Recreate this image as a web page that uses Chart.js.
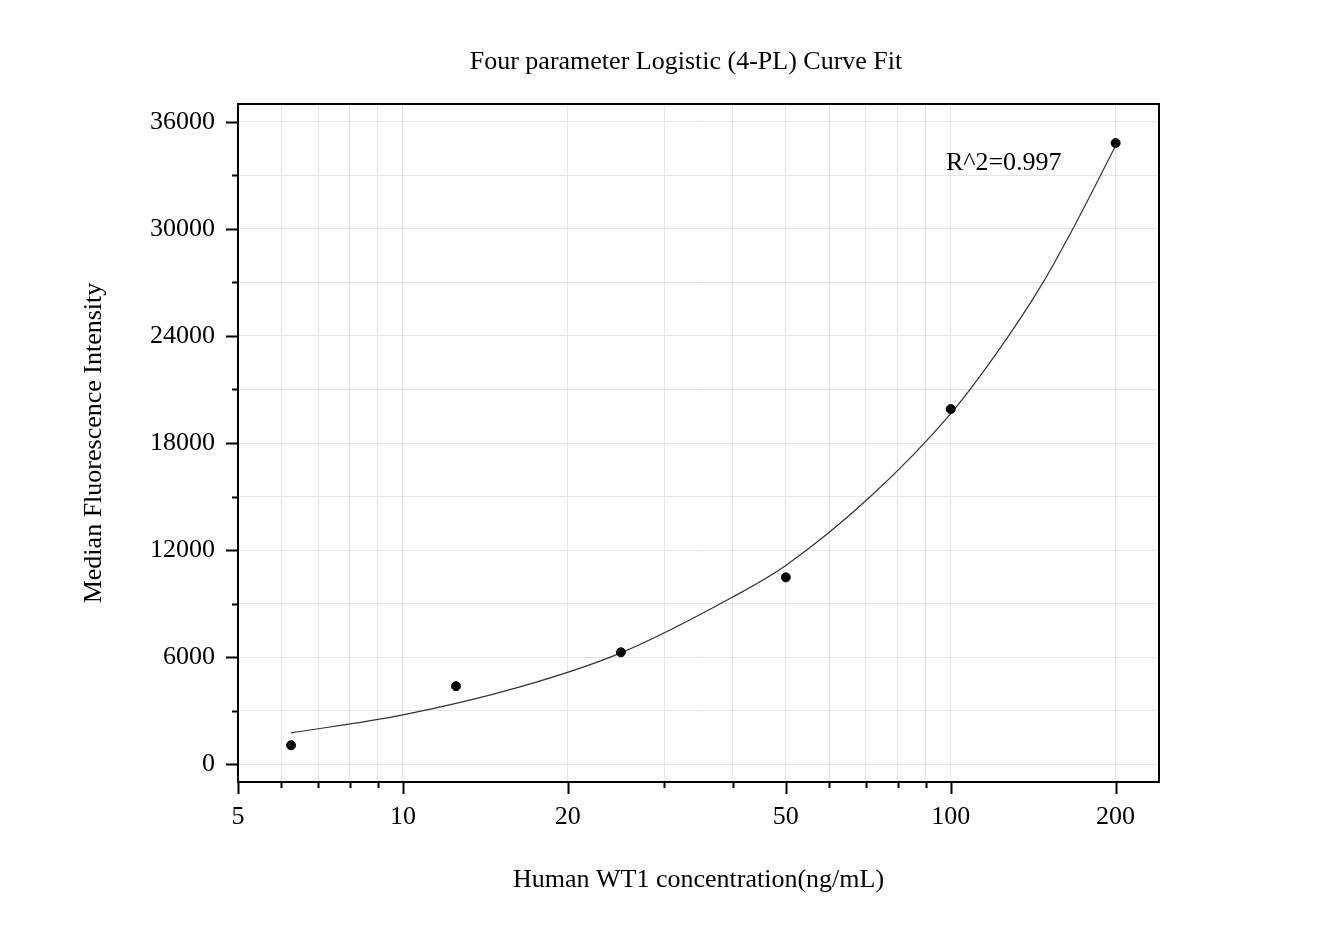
<!DOCTYPE html>
<html>
<head>
<meta charset="utf-8">
<script src="https://cdn.jsdelivr.net/npm/chart.js@4/dist/chart.umd.min.js"></script>
<style>
html,body{margin:0;padding:0;background:#fff;}
#wrap{width:1341px;height:934px;}
</style>
</head>
<body>
<div id="wrap"><canvas id="c" width="1341" height="934"></canvas></div>
<script>
// ---- data ----
const titleText = "Four parameter Logistic (4-PL) Curve Fit";
const xAxisTitle = "Human WT1 concentration(ng/mL)";
const yAxisTitle = "Median Fluorescence Intensity";
const r2Text = "R^2=0.997";

const xMajorTicks = [5, 10, 20, 50, 100, 200];
const xMinorTicks = [6, 7, 8, 9, 30, 40, 60, 70, 80, 90];
const yMajorTicks = [0, 6000, 12000, 18000, 24000, 30000, 36000];
const yMinorTicks = [3000, 9000, 15000, 21000, 27000, 33000];

const concentrations = [6.25, 12.5, 25, 50, 100, 200];
const mfi = [1060, 4370, 6270, 10470, 19900, 34810];

// fitted 4-PL curve
const fitX = [6.25, 10, 16.35, 25, 40, 50, 71.2, 100, 122.9, 147, 166, 200];
const fitY = [1750, 2760, 4330, 6240, 9370, 11140, 14970, 19650, 23290, 26930, 29840, 34660];

const FONT = "'Liberation Serif', 'Times New Roman', serif";
const FS = 26;
Chart.defaults.color = '#000';
Chart.defaults.font.family = FONT;

const allXTicks = [...xMajorTicks, ...xMinorTicks].sort((a, b) => a - b);
const allYTicks = [...yMajorTicks, ...yMinorTicks].sort((a, b) => a - b);

const framePlugin = {
  id: 'frame',
  afterDraw(chart) {
    const ctx = chart.ctx;
    const a = chart.chartArea;
    const xs = chart.scales.x, ys = chart.scales.y;
    ctx.save();
    ctx.strokeStyle = '#000';
    ctx.lineWidth = 2;
    ctx.beginPath();
    allXTicks.forEach(v => {
      const px = Math.round(xs.getPixelForValue(v)) + 0.5;
      const len = xMajorTicks.includes(v) ? 12 : 6;
      ctx.moveTo(px, a.bottom);
      ctx.lineTo(px, a.bottom + len);
    });
    allYTicks.forEach(v => {
      const py = Math.round(ys.getPixelForValue(v)) + 0.5;
      const len = yMajorTicks.includes(v) ? 12 : 6;
      ctx.moveTo(a.left, py);
      ctx.lineTo(a.left - len, py);
    });
    ctx.stroke();
    ctx.strokeRect(a.left, a.top, a.right - a.left, a.bottom - a.top);
    ctx.fillStyle = '#000';
    ctx.font = FS + "px " + FONT;
    ctx.textAlign = 'left';
    ctx.textBaseline = 'middle';
    ctx.fillText(r2Text, xs.getPixelForValue(98), ys.getPixelForValue(33700));
    ctx.restore();
  }
};

new Chart(document.getElementById('c'), {
  data: {
    datasets: [
      {
        type: 'line',
        label: 'fit',
        data: fitX.map((x, i) => ({x: x, y: fitY[i]})),
        borderColor: '#333',
        borderWidth: 1.2,
        pointRadius: 0,
        fill: false,
        cubicInterpolationMode: 'monotone',
        order: 2
      },
      {
        type: 'scatter',
        label: 'data',
        data: concentrations.map((x, i) => ({x: x, y: mfi[i]})),
        backgroundColor: '#000',
        borderColor: '#000',
        pointRadius: 4.5,
        order: 1
      }
    ]
  },
  options: {
    responsive: false,
    animation: false,
    layout: {padding: {left: 79, right: 48, top: 0, bottom: 38.4}},
    plugins: {
      legend: {display: false},
      tooltip: {enabled: false},
      title: {
        display: true,
        text: titleText,
        color: '#000',
        font: {family: FONT, size: FS, weight: 'normal'},
        padding: {top: 46.4, bottom: 26.4}
      }
    },
    scales: {
      x: {
        type: 'logarithmic',
        min: 5,
        max: 240,
        afterBuildTicks(scale) { scale.ticks = allXTicks.map(v => ({value: v})); },
        afterFit(scale) { scale.height = 113.6; },
        ticks: {
          autoSkip: false,
          maxRotation: 0,
          padding: 20,
          font: {family: FONT, size: FS},
          callback(value) { return xMajorTicks.includes(value) ? String(value) : ''; }
        },
        grid: {color: '#e6e6e6', lineWidth: 1, drawTicks: false},
        border: {display: false},
        title: {display: true, text: xAxisTitle, font: {family: FONT, size: FS}, padding: 0}
      },
      y: {
        type: 'linear',
        min: -1000,
        max: 37000,
        afterBuildTicks(scale) { scale.ticks = allYTicks.map(v => ({value: v})); },
        afterFit(scale) { scale.width = 159; },
        ticks: {
          autoSkip: false,
          padding: 23,
          font: {family: FONT, size: FS},
          callback(value) { return yMajorTicks.includes(value) ? String(value) : ''; }
        },
        grid: {color: '#e6e6e6', lineWidth: 1, drawTicks: false},
        border: {display: false},
        title: {display: true, text: yAxisTitle, font: {family: FONT, size: FS}, padding: 0}
      },
      yRightSpace: {
        type: 'linear',
        position: 'right',
        display: true,
        afterFit(scale) { scale.width = 134; },
        ticks: {display: false},
        grid: {display: false, drawTicks: false},
        border: {display: false},
        title: {display: false}
      }
    }
  },
  plugins: [framePlugin]
});
</script>
</body>
</html>
